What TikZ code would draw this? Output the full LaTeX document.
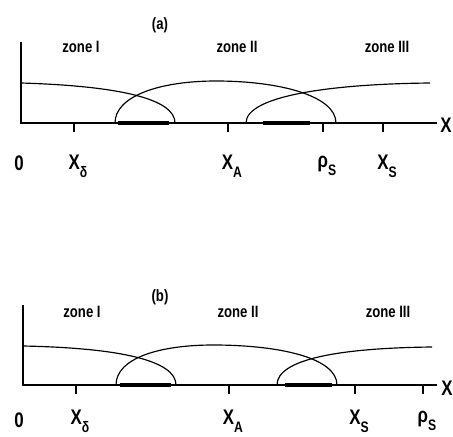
\documentclass[tikz,border=0pt]{standalone}
\usepackage{fontspec}
\setmainfont{Liberation Sans}
\usepackage{xcolor}
\newcommand{\cond}[1]{\scalebox{0.8}[1]{#1}}
\newcommand{\subl}[2]{\cond{#1\raisebox{-0.7ex}{\fontsize{13}{13}\selectfont #2}}}

\begin{document}
\begin{tikzpicture}[x=0.03cm, y=0.03cm, line width=1pt, every node/.style={inner sep=0pt},
  zonelbl/.style={font=\fontsize{14}{14}\selectfont\bfseries},
  axlbl/.style={font=\fontsize{18}{18}\selectfont\bfseries},
  bar/.style={line width=4pt}]
\useasboundingbox (0,0) rectangle (453,436);

% panel (a)
\node[font=\fontsize{14}{14}\selectfont\bfseries] (pa) at (160,411) {\cond{(a)}};
\node[zonelbl] (za1) at (81,389) {\cond{zone I}};
\node[zonelbl] (za2) at (237,389) {\cond{zone II}};
\node[zonelbl] (za3) at (387,389) {\cond{zone III}};
\coordinate (oa) at (21,313);
\coordinate (ta) at (21,394);
\coordinate (ea) at (437,313);
\draw (ta) -- (oa) -- (ea);
\node[axlbl] (xa) at (446,311) {\cond{X}};
\draw (21,353) .. controls (120,350) and (175,337) .. (175,313);
\draw (115,313) .. controls (115,340) and (160,355) .. (216,355) .. controls (280,355) and (336,340) .. (336,313);
\draw (246,313) .. controls (246,340) and (330,352) .. (430,353);
\draw[bar] (118,313) -- (169,313);
\draw[bar] (263,313) -- (310,313);
\foreach \t in {74,228,323,383} \draw (\t,313) -- (\t,304);
\node[axlbl] (la0) at (19,273) {\cond{0}};
\node[axlbl] (la1) at (78,270) {\subl{X}{δ}};
\node[axlbl] (la2) at (232,270) {\subl{X}{A}};
\node[axlbl] (la3) at (327,270) {\subl{ρ}{S}};
\node[axlbl] (la4) at (387,270) {\subl{X}{S}};

% panel (b)
\node[font=\fontsize{14}{14}\selectfont\bfseries] (pb) at (160,139) {\cond{(b)}};
\node[zonelbl] (zb1) at (82,124) {\cond{zone I}};
\node[zonelbl] (zb2) at (238,124) {\cond{zone II}};
\node[zonelbl] (zb3) at (388,124) {\cond{zone III}};
\coordinate (ob) at (23,51);
\coordinate (tb) at (23,131);
\coordinate (eb) at (437,51);
\draw (tb) -- (ob) -- (eb);
\node[axlbl] (xb) at (447,48) {\cond{X}};
\draw (23,90) .. controls (122,88) and (176,75) .. (176,51);
\draw (116,51) .. controls (116,78) and (160,91) .. (213,91) .. controls (280,91) and (337,78) .. (337,51);
\draw (277,51) .. controls (277,77) and (340,88) .. (432,89);
\draw[bar] (120,51) -- (171,51);
\draw[bar] (285,51) -- (332,51);
\foreach \t in {76,229,355,423} \draw (\t,51) -- (\t,42);
\node[axlbl] (lb0) at (19,16) {\cond{0}};
\node[axlbl] (lb1) at (80,15) {\subl{X}{δ}};
\node[axlbl] (lb2) at (233,15) {\subl{X}{A}};
\node[axlbl] (lb3) at (359,15) {\subl{X}{S}};
\node[axlbl] (lb4) at (427,15) {\subl{ρ}{S}};
\end{tikzpicture}
\end{document}
